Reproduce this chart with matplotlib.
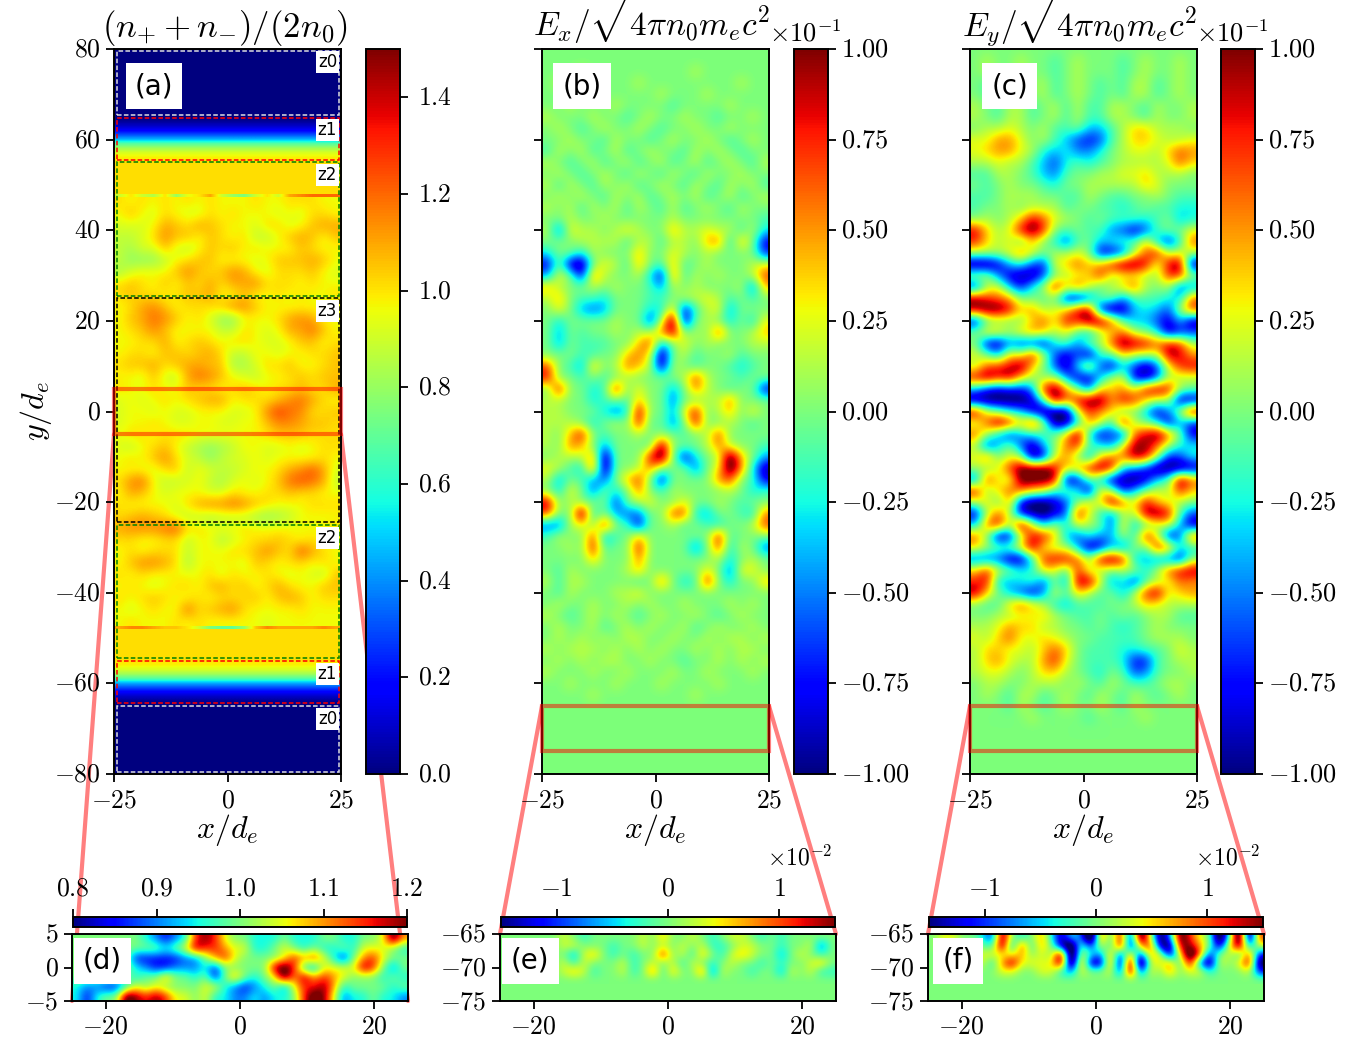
import numpy as np
import matplotlib
matplotlib.use("Agg")
import matplotlib.pyplot as plt
from matplotlib.patches import Rectangle, ConnectionPatch
from matplotlib.transforms import ScaledTranslation

W, H = 1354, 1039
plt.rcParams.update({"mathtext.fontset": "cm", "font.family": "DejaVu Sans",
                     "axes.linewidth": 1.4, "xtick.major.width": 1.3, "ytick.major.width": 1.3,
                     "xtick.major.size": 6, "ytick.major.size": 6})
FS = 18.5

# ---- panel (a): density; entries are offsets from 0.92 in steps of 0.045
dens_mid = [
[2,1,2,1,2,1,2,1,2,1,1,1,2,1,1,2,2,2,1,1],
[1,3,1,0,2,1,0,0,2,1,2,1,1,1,0,1,0,2,2,1],
[0,0,0,1,4,3,2,4,3,2,1,1,0,2,2,0,1,3,4,4],
[-1,-1,0,2,5,3,3,1,3,2,1,2,-1,-1,1,3,4,3,1,3],
[-1,-2,0,0,3,0,-1,1,3,2,3,1,2,1,1,1,3,2,1,1],
[-1,-3,-3,-3,-1,1,2,3,3,1,1,1,0,1,3,3,3,4,3,1],
[-2,0,1,1,1,3,5,3,2,3,5,4,1,0,2,2,2,3,1,0],
[2,3,2,1,3,1,3,2,4,2,4,4,5,2,2,2,1,2,1,1],
[2,3,2,2,1,2,3,3,4,1,1,3,1,1,2,1,2,1,1,2],
[1,2,4,5,3,1,2,2,2,3,5,5,3,1,1,1,1,1,1,1],
[1,3,4,6,5,3,1,2,0,-3,-3,1,1,1,2,4,5,4,1,1],
[1,2,3,5,3,1,1,1,1,-1,-1,2,1,0,1,4,4,6,3,1],
[1,1,2,2,4,1,2,3,2,1,2,2,1,0,0,1,3,3,1,2],
[1,2,2,1,3,3,2,3,4,2,-1,-1,1,1,0,1,1,2,2,3],
[2,3,3,4,2,3,4,4,3,3,-2,-2,0,2,2,3,1,1,2,3],
[1,1,0,3,0,-1,4,6,5,3,1,0,-1,1,1,2,3,2,3,3],
[2,1,1,2,1,1,3,2,2,1,2,3,2,1,2,2,3,2,2,4],
[0,1,0,1,2,1,2,3,4,4,1,2,2,2,3,5,6,4,2,1],
[0,1,1,0,1,0,0,1,1,1,0,0,1,5,8,6,5,2,2,3],
[0,1,1,2,1,0,0,1,1,0,0,1,1,3,5,5,4,3,3,2],
[1,2,2,1,2,2,2,1,1,1,1,1,1,2,3,3,3,2,2,2],
[0,-1,1,2,3,1,-1,-2,-3,-2,-1,1,1,0,0,1,0,1,2,2],
[1,2,1,3,5,2,0,-1,-3,-1,0,0,1,0,1,1,1,1,2,1],
[1,1,1,0,2,3,-1,1,0,-1,-1,0,1,1,2,4,5,7,4,0],
[2,5,6,1,-1,-1,0,1,-1,-2,0,1,0,1,3,6,7,6,4,-1],
[1,4,3,1,0,1,1,1,0,0,2,1,1,2,2,3,2,2,1,1],
[2,1,1,1,1,0,2,4,5,5,6,5,3,2,1,1,1,2,2,2],
[2,3,4,3,2,0,-1,-1,-2,-1,-1,-1,-2,-3,-2,-1,1,1,1,1],
[4,5,5,5,6,7,2,2,1,1,1,2,1,1,1,1,1,1,1,2],
[2,2,1,1,2,2,-1,1,1,-2,0,1,2,2,3,2,1,2,1,1],
[1,2,1,2,2,2,-1,1,1,1,2,2,3,5,3,2,7,4,2,1],
[1,3,5,5,4,2,-2,1,1,1,1,0,3,2,1,2,2,1,2,1],
[2,1,2,1,1,1,1,1,2,0,2,1,1,2,1,0,1,0,-1,3],
[1,2,1,0,1,2,2,1,3,4,2,3,1,2,4,2,1,1,3,3],
[2,1,2,3,2,1,1,2,1,2,2,2,3,1,3,4,3,1,2,2],
[1,0,1,2,1,1,6,2,3,4,5,2,1,1,1,1,2,1,1,1],
[1,2,1,1,1,2,1,2,1,1,1,1,1,0,1,1,1,1,1,1],
]
# density profile of the edge, y = 80, 79, ... 48
edge_profile = [0]*15 + [0.0,0.03,0.09,0.17,0.3,0.45,0.68,0.82,0.92,0.98,1.01,1.01,1.01,1.01,1.01,1.01,1.01,1.01]
seam_top = [0.9,1.0,0.9,0.85,1.0,0.8,0.95,1.0,1.1,0.9,0.8,0.75,0.9,1.0,0.9,1.1,1.15,1.2,1.2,1.2]
seam_bot = [1.1,1.15,1.15,1.1,1.05,1.05,1.0,0.9,0.75,0.7,0.7,0.8,1.05,1.15,1.1,1.1,1.1,1.1,1.15,1.1]

# ---- panel (b): Ex in units of 0.14e-1
ex_top = [
[0]*20,
[0,0,0,0,0,0,0,0,0,0,0,0,0,0,0,0,0,0,0,0],
[0,0,0,1,0,0,0,0,0,0,0,0,0,1,0,0,0,0,0,0],
[0,1,0,0,0,0,0,0,1,0,0,0,0,0,0,0,0,1,0,0],
[0,0,0,0,1,0,0,0,0,0,1,0,0,0,1,0,0,0,0,0],
[0,0,1,0,0,0,1,0,0,0,0,-1,0,0,0,0,1,0,0,0],
[1,0,0,0,1,0,0,-1,0,1,0,0,1,0,0,-1,0,0,1,0],
[0,1,0,-1,0,1,0,0,1,0,-1,0,0,1,0,0,1,0,0,0],
[0,0,1,0,0,-1,1,0,0,-1,0,1,0,0,1,0,-1,0,1,0],
[-1,1,0,1,-1,0,1,-1,0,1,0,0,-1,1,0,1,0,-1,0,0],
[1,0,-1,0,1,-1,0,1,-1,0,1,-1,0,1,-1,0,1,0,-1,1],
[0,1,0,-1,0,1,0,-1,1,0,-1,1,0,-1,1,0,0,1,0,0],
[1,-1,1,0,-1,1,0,1,-1,0,1,0,-1,1,0,-1,1,0,1,-1],
[0,1,0,1,0,-1,1,0,1,-1,0,1,0,1,-1,0,1,-1,0,1],
[1,0,1,-1,1,0,1,-1,1,0,-1,1,-1,0,1,0,-1,1,0,0],
]
ex_mid = [
[0,0,1,0,0,1,0,0,0,0,0,1,0,0,0,0,0,0,0,-1],
[1,-4,2,1,1,0,1,2,1,0,0,3,1,1,2,1,1,-1,1,-2],
[0,0,0,1,1,1,1,-1,1,1,-1,1,1,0,3,4,-2,3,0,-6],
[-2,0,0,-2,1,0,0,0,3,0,0,2,1,0,1,0,0,0,0,-5],
[-6,0,-7,-8,0,2,1,-1,3,0,-1,3,-1,0,1,0,0,0,1,2],
[-3,2,0,-6,4,1,0,0,1,-2,-6,4,-1,1,0,1,0,0,1,5],
[3,1,0,0,1,0,1,0,0,-1,-3,1,0,1,0,0,0,1,-4,3],
[1,3,0,-1,-1,-2,0,0,0,-1,-1,0,1,1,2,1,-1,0,-1,0],
[0,2,0,-3,-4,-3,0,0,0,-2,-2,3,-6,-1,1,2,-3,0,0,0],
[0,-2,0,0,0,0,1,0,0,-5,1,9,-7,0,1,0,-2,0,-2,2],
[0,-3,0,-1,0,0,1,0,1,1,4,7,0,1,0,5,0,0,1,3],
[0,-3,0,-1,-1,-1,0,0,3,5,-3,0,2,0,1,0,0,0,1,1],
[0,0,0,-1,-1,0,0,3,4,2,-8,0,1,-1,0,0,1,-1,0,0],
[5,0,-1,-3,3,0,1,4,3,1,-7,1,0,-1,0,0,-1,-2,-1,0],
[6,0,0,-1,0,-1,0,1,0,0,0,0,1,5,1,0,0,-1,0,0],
[0,6,0,0,-2,-1,6,0,2,0,0,-3,0,4,1,0,-1,0,0,-6],
[1,1,0,0,-2,-1,0,-1,3,0,0,-4,0,0,1,1,4,0,0,0],
[1,1,0,0,0,-2,-4,-2,7,0,0,-3,2,6,0,1,3,0,2,0],
[1,1,1,0,-2,0,1,0,6,-1,0,-4,0,6,0,0,1,0,-1,0],
[1,0,3,6,0,-1,0,0,1,0,0,0,-1,0,1,5,0,0,0,0],
[1,0,4,3,0,-3,0,0,0,-1,8,0,0,0,1,4,1,0,0,-1],
[0,1,1,1,4,-8,0,0,0,6,9,0,-6,-2,0,1,9,3,0,-3],
[2,1,-1,-2,5,-8,0,0,1,4,0,0,0,-4,0,2,9,4,-2,-7],
[1,-3,0,-1,-3,-4,0,3,5,0,-6,0,0,0,0,4,5,0,-1,-6],
[0,-2,2,0,-4,0,-2,0,4,0,-1,1,0,0,0,0,1,0,-2,-1],
[7,0,1,0,0,0,-5,0,1,2,0,0,2,0,0,1,0,-1,0,0],
[5,0,0,9,-2,0,-3,-4,-4,0,0,5,5,-2,-3,0,0,-1,-2,4],
[-4,-4,1,2,0,6,0,-1,-6,0,0,1,-1,0,-1,-2,0,0,1,5],
[-1,1,0,0,5,-3,-1,0,3,0,0,0,0,0,0,6,-1,0,0,0],
[0,0,1,0,6,-1,0,0,6,0,0,0,0,-4,0,5,-2,1,0,-4],
[0,0,0,0,3,0,0,0,4,0,0,0,0,0,0,1,-2,0,1,0],
[0,-1,1,0,0,0,0,1,3,0,0,0,0,0,2,0,-4,2,2,0],
[1,-1,1,1,0,0,0,0,-1,0,4,0,-2,-1,6,0,-2,0,0,3],
[0,-1,1,0,0,0,1,1,2,0,0,0,0,0,0,0,0,0,0,0],
[0,1,0,0,1,0,0,1,0,1,0,0,1,0,0,0,1,0,1,0],
]
ex_bot = [
[1,0,-1,0,1,0,1,0,-1,0,1,0,0,1,0,-1,0,1,0,0],
[0,1,0,0,1,-1,0,1,0,1,0,0,1,-1,0,1,0,0,1,0],
[0,1,0,1,0,1,0,1,1,0,0,1,0,0,1,0,1,1,0,1],
[1,0,1,1,1,0,1,0,1,0,1,0,0,1,0,1,0,1,1,0],
[0,1,0,1,0,1,1,0,0,1,0,0,-1,0,0,1,0,1,0,1],
[1,0,0,0,1,0,0,1,0,0,0,1,0,0,1,0,0,0,1,0],
[0,0,1,0,0,0,1,0,0,0,1,0,0,0,0,1,0,0,0,0],
[0,0,0,0,1,0,0,0,0,0,0,0,0,1,0,0,0,0,0,0],
[0]*20,[0]*20,[0]*20,[0]*20,[0]*20,[0]*20,[0]*20,
]

# ---- panel (c): Ey in units of 0.125e-1
ey_top = [
[0]*20,
[0,1,0,0,1,0,0,-1,0,1,0,0,0,-1,0,1,0,0,1,0],
[0,1,0,0,1,0,0,-1,0,1,0,0,0,-1,0,1,0,0,1,0],
[0,-1,0,1,1,0,1,-1,0,1,0,-1,0,-1,1,1,-1,0,1,0],
[0,-1,0,1,1,0,1,-1,0,1,0,-1,0,-1,1,1,-1,0,1,0],
[1,0,-1,1,1,-1,0,1,-1,1,-1,-1,1,1,0,-1,1,0,0,1],
[1,0,-1,1,1,-1,0,1,-1,1,-1,-1,1,1,0,-1,1,0,0,1],
[0,1,1,2,1,0,1,-1,-1,0,-3,-3,-1,1,3,3,1,1,1,0],
[2,2,4,4,2,0,1,-1,-3,-5,-6,-5,-1,1,3,3,2,1,1,2],
[2,3,4,4,2,1,-2,-3,-2,-4,-4,-2,0,1,2,2,1,3,5,4],
[1,1,2,1,1,-1,-3,-5,-2,-1,-2,-1,0,1,1,1,1,2,5,3],
[-1,-1,1,1,0,-1,-3,-4,-1,0,0,1,1,2,2,3,1,1,1,0],
[0,-1,0,1,0,0,-1,-2,0,0,1,1,1,1,1,3,2,0,0,0],
[-1,-1,0,1,1,1,0,0,-1,-1,1,0,-1,-1,0,0,1,0,-1,-1],
[-1,0,0,1,0,1,1,1,-1,0,0,-1,-1,-2,-1,0,-1,-1,-2,-2],
]
ey_mid = [
[0,1,0,1,3,7,5,2,1,0,-1,0,-1,-1,-1,-2,-1,0,-3,-2],
[7,3,1,2,7,9,6,0,-1,0,-1,-1,-4,-5,-7,-5,-1,0,0,2],
[6,3,1,2,-1,3,0,-2,-5,-1,0,-3,-2,-1,-1,3,-3,-6,-2,5],
[1,1,1,2,5,2,0,1,1,2,0,-7,-7,-5,1,5,7,1,2,1],
[-9,-9,-7,-3,-2,-5,-6,2,3,5,3,4,7,9,9,7,1,7,9,-8],
[1,1,-4,-7,-8,-8,-5,0,1,2,3,6,1,2,2,1,1,6,6,1],
[-6,1,2,-3,-6,-2,1,7,3,5,2,-1,1,3,5,1,0,1,-5,-4],
[8,6,5,4,0,0,-1,0,-7,-8,-5,0,0,-4,-1,-1,-1,-2,-3,5],
[8,9,9,7,3,4,1,2,3,7,8,-7,-9,-8,-3,-2,-3,-5,1,6],
[-7,-1,0,0,0,3,5,2,7,6,9,9,5,-1,-3,-3,-5,-7,-3,-8],
[0,3,3,1,3,4,3,1,2,-1,-3,1,3,5,1,0,-2,-8,-6,-5],
[0,-7,-8,-4,-6,-6,-7,-2,-1,-4,0,1,5,9,8,7,5,7,6,1],
[2,0,-3,3,2,7,1,-5,-7,-5,-8,-1,-1,3,1,1,1,8,7,4],
[1,5,6,7,9,3,0,-5,-8,-2,3,-5,-7,-3,-5,-8,-5,2,6,7],
[7,9,7,8,3,1,0,1,-4,-7,-7,-3,1,2,-7,-8,-5,1,1,1],
[-3,-6,-7,-6,-6,-4,7,9,4,0,-5,3,3,4,2,7,8,7,1,0],
[-9,-9,-9,-9,-9,-7,-1,9,5,7,9,9,4,7,6,3,1,1,-8,-8],
[8,2,0,-2,-3,-7,-9,-9,-9,2,6,4,3,-1,0,-3,-7,-4,1,9],
[1,5,9,7,3,7,1,-9,-8,-3,4,2,-2,8,1,0,-2,-7,-3,-6],
[5,1,-3,-6,-3,-2,-1,0,3,9,-2,-7,-5,-6,5,7,9,5,0,-7],
[1,-6,-3,0,-5,-8,-3,0,5,6,-1,-2,-4,2,8,8,5,1,-2,-2],
[2,5,0,2,1,-9,-7,2,4,0,-4,3,5,5,8,7,1,-6,-5,-2],
[1,0,2,6,9,9,9,7,3,4,7,9,7,-3,-4,-6,-9,-9,-9,-8],
[-5,6,2,1,9,9,9,8,-8,-7,0,-3,-8,-8,-9,-7,-3,-1,9,5],
[7,0,3,5,5,3,2,-2,0,-2,-8,3,1,-6,-3,0,2,1,6,3],
[1,3,-1,4,-7,-9,-9,-7,-5,0,3,2,9,5,2,7,3,2,1,0],
[-7,1,5,1,-7,-8,-9,-7,-5,7,2,-2,-4,1,1,8,9,7,-1,-5],
[-3,5,7,1,9,2,-3,1,-2,2,1,0,-5,3,-3,-1,1,2,-3,-8],
[5,0,-8,-7,1,7,7,3,-3,-5,-2,-4,-3,1,-2,7,2,-7,-5,6],
[3,1,0,0,3,8,2,1,1,-3,-8,-7,-3,-5,1,-1,7,5,-2,-2],
[-5,-5,-5,-8,-8,-2,6,7,7,5,1,8,9,7,-3,-3,-4,-5,-7,0],
[3,6,2,0,-2,-2,3,2,-1,6,1,1,0,1,1,-2,1,5,7,8],
[6,7,-3,-3,-2,-1,-5,0,-4,8,8,2,-4,-2,-6,-1,1,2,5,4],
[8,3,0,-3,-5,-7,-4,2,-1,3,1,-1,0,-3,1,6,8,2,3,4],
[0,-1,-1,3,5,3,1,-2,-3,-1,-1,-1,0,0,1,3,2,1,1,1],
]
ey_bot = [
[0,0,1,1,2,2,3,1,0,-1,-1,0,-1,0,-1,0,1,1,-1,-1],
[1,1,2,4,3,3,1,1,0,0,-1,0,-1,-2,-1,0,1,0,0,0],
[2,1,3,5,2,2,3,2,1,0,0,-1,-1,-1,-1,0,1,1,1,0],
[1,3,3,2,2,1,3,5,3,0,-1,-1,-1,-2,-2,-1,-1,0,2,1],
[1,3,4,2,1,1,4,6,2,0,-1,-1,-1,-2,-6,-6,-1,0,1,1],
[1,2,2,1,0,1,3,3,1,0,-1,-2,0,-1,-5,-4,-1,0,0,1],
[0,1,1,0,0,1,1,1,0,1,0,-1,1,0,-1,-1,0,1,1,0],
[0,1,0,-1,1,1,-1,0,1,0,-1,1,0,-1,1,0,-1,0,1,0],
[0,0,0,-1,1,0,-1,0,1,0,0,1,0,-1,1,0,0,0,0,0],
[0,0,0,0,0,1,0,0,0,0,-1,0,0,0,0,1,0,0,0,0],
[0]*20,[0]*20,[0]*20,[0]*20,[0]*20,
]

# ---- inset (d): density around y=0, offsets from 1 in steps of 0.05
dens_zoom = [
[0,0,0,0,0,0,0,-1,-2,-3,-2,-1,3,4,3,1,0,0,-1,-1,-1,0,-1,-1,-1,0,0,-1,-1,0,0,1,5,2],
[0,0,0,0,0,0,0,0,0,-1,0,1,4,3,3,2,1,1,-1,-1,0,1,0,-1,0,-1,-1,0,-1,1,1,1,0,-1],
[0,0,0,0,0,0,-3,-3,-3,-3,-3,-2,-2,0,2,3,1,0,0,0,0,1,3,2,3,1,-1,-3,0,2,3,1,0,0],
[0,0,0,0,0,0,-1,-2,-3,-3,-2,-2,-2,-1,-3,0,0,0,0,0,4,5,3,-1,-2,1,1,1,1,4,3,0,-2,0],
[0,0,0,0,0,0,-1,0,0,2,0,0,-1,0,-3,0,2,0,-1,0,1,5,2,4,2,3,2,1,0,0,0,-1,0,-1],
[-1,-2,-2,-3,-3,-1,1,0,1,0,0,0,0,1,1,-1,-2,-3,-2,-1,0,-2,1,3,3,4,2,-1,0,0,0,0,-1,0],
[-1,-3,-1,0,0,5,4,3,4,3,1,1,0,1,-1,-1,-2,-2,-1,-2,-1,-1,0,3,5,4,1,-2,-1,-1,0,-1,-1,-2],
]
# ---- inset (e): Ex at the edge, units 0.3e-2
ex_zoom = [
[0,0,0,0,0,0,1,0,-1,0,0,0,0,0,1,0,2,0,0,1,0,-1,0,1,1,0,-1,0,-1,0,0,0,0,0],
[0,0,0,0,0,0,1,1,0,0,0,-1,0,0,1,0,1,0,1,0,1,-1,-1,0,1,1,0,0,-1,0,0,1,-3,0],
[0,0,0,0,0,0,0,-2,1,2,0,-1,0,-1,0,0,4,0,1,-1,2,0,-1,1,2,1,0,0,-2,0,1,0,-1,0],
[0,0,0,0,0,0,1,-1,1,0,0,0,1,-1,0,1,0,1,-1,1,0,-1,0,1,0,0,-1,0,-1,0,0,1,2,0],
[0,0,0,0,0,0,1,2,1,-1,0,0,1,-1,0,3,-1,2,0,0,3,-3,1,0,0,-1,0,0,-2,1,0,1,-1,-1],
[0]*34,
]
# ---- inset (f): Ey at the edge, units 0.38e-2
ey_zoom = [
[0,1,1,0,0,-1,-3,5,0,-1,0,2,-1,-4,-1,-2,-7,3,-1,4,-4,6,1,-5,-2,5,3,1,0,-6,-1,7,-6,3],
[0,1,1,0,0,0,-1,5,-2,3,-1,2,0,-4,-6,0,-3,1,-1,4,-4,2,3,-4,-5,4,4,2,0,-4,1,5,-2,1],
[0,0,0,0,0,1,1,1,1,2,0,1,0,5,-7,1,-1,-2,2,-3,2,-3,2,1,-4,1,6,3,-3,0,1,-1,3,-3],
[0,0,0,0,0,1,-1,2,4,1,1,1,1,5,-7,3,-4,-4,3,-5,6,-7,1,1,2,-1,4,-2,-5,1,0,1,4,-5],
[0,0,0,0,0,0,0,1,1,0,0,1,1,-1,-2,1,0,0,1,-3,5,-3,1,0,2,0,1,1,-1,0,0,0,1,-3],
[0]*34,
]

# tick values and labels
x_ticks = [-25, 0, 25]
y_ticks = [80, 60, 40, 20, 0, -20, -40, -60, -80]
dens_cb_ticks = [0.0, 0.2, 0.4, 0.6, 0.8, 1.0, 1.2, 1.4]
field_cb_ticks = [-1.0, -0.75, -0.5, -0.25, 0.0, 0.25, 0.5, 0.75, 1.0]
zoom_x_ticks = [-20, 0, 20]
zone_names = ["z0", "z1", "z2", "z3", "z2", "z1", "z0"]
zone_y = [77.2, 62.2, 52.1, 22.1, -27.9, -57.9, -67.8]
zone_rects = [(65.5, 79.5, "white"), (55.4, 64.7, "red"), (25.4, 55.0, "green"), (-24.4, 25.0, "black"),
              (-54.4, -25.0, "green"), (-64.3, -55.0, "red"), (-79.6, -65.0, "white")]


def grid(rows, n):
    bad = [i for i, r in enumerate(rows) if len(r) != n]
    if bad:
        raise ValueError(f"bad rows {bad} {[len(rows[i]) for i in bad]}")
    return np.array(rows, dtype=float)


def mlab(v):
    s = f"{v}"
    return "$" + s + "$"


def axpx(l, t, r, b):
    return fig.add_axes([l / W, 1 - b / H, (r - l) / W, (b - t) / H])


def lift_labels(labels, px):
    off = ScaledTranslation(0, px / 100, fig.dpi_scale_trans)
    for t in labels:
        t.set_transform(t.get_transform() + off)


fig = plt.figure(figsize=(W / 100, H / 100), dpi=100)
PANEL_X = [114, 542, 970]
CB_X = [366, 794, 1221]
ZOOM_X = [72, 500, 928]
names = ["(a)", "(b)", "(c)"]
znames = ["(d)", "(e)", "(f)"]

axs, ins = [], []
for i in range(3):
    x0 = PANEL_X[i]
    ax = axpx(x0, 49, x0 + 227, 774)
    axs.append(ax)
    ax.set_facecolor(plt.cm.jet(0.5))
    ax.set_xticks(x_ticks, [mlab(v) for v in x_ticks], fontsize=FS)
    ax.set_yticks(y_ticks, [mlab(v) for v in y_ticks] if i == 0 else [""] * len(y_ticks), fontsize=FS)
    ax.tick_params(axis="x", pad=4)
    ax.set_xlabel(r"$x/d_e$", fontsize=23, labelpad=-1)

# panel a
ax = axs[0]
dens_arr = 0.92 + 0.045 * grid(dens_mid, 20)
imA = ax.imshow(dens_arr, extent=[-25, 25, -47.5, 47.5], cmap="jet", vmin=0, vmax=1.5, aspect="auto", interpolation="bicubic")
prof = np.array(edge_profile)[:, None]
ax.imshow(prof, extent=[-25, 25, 47.5, 80.5], cmap="jet", vmin=0, vmax=1.5, aspect="auto", interpolation="bilinear")
ax.imshow(prof[::-1], extent=[-25, 25, -80.5, -47.5], cmap="jet", vmin=0, vmax=1.5, aspect="auto", interpolation="bilinear")
ax.imshow(np.array([seam_top]), extent=[-25, 25, 47.4, 48.0], cmap="jet", vmin=0, vmax=1.5, aspect="auto", interpolation="bilinear")
ax.imshow(np.array([seam_bot]), extent=[-25, 25, -48.0, -47.4], cmap="jet", vmin=0, vmax=1.5, aspect="auto", interpolation="bilinear")
ax.set_xlim(-25, 25)
ax.set_ylim(-80, 80)
ax.set_ylabel(r"$y/d_e$", fontsize=23, labelpad=0)
ax.set_title(r"$(n_{+}+n_{-})/(2n_0)$", fontsize=25, pad=9, x=0.49)
for y0, y1, c in zone_rects:
    ax.add_patch(Rectangle((-24.3, y0), 48.9, y1 - y0, fill=False, ls=(0, (3, 1.5)), lw=1.1, ec=c if c != "white" else "#dddddd"))
for n, yy in zip(zone_names, zone_y):
    ax.text(22, yy, n, fontsize=12, ha="center", va="center", bbox=dict(fc="white", ec="none", pad=1.5))

# panels b, c
ex_arr = 0.14 * grid(ex_top + ex_mid + ex_bot, 20)
ey_arr = 0.125 * grid(ey_top + ey_mid + ey_bot, 20)
imB = axs[1].imshow(ex_arr, extent=[-25, 25, -81.25, 81.25], cmap="jet", vmin=-1, vmax=1, aspect="auto", interpolation="bicubic")
imC = axs[2].imshow(ey_arr, extent=[-25, 25, -81.25, 81.25], cmap="jet", vmin=-1, vmax=1, aspect="auto", interpolation="bicubic")
axs[1].set_ylim(-80, 80)
axs[2].set_ylim(-80, 80)
axs[1].set_title(r"$E_x/\sqrt{4\pi n_0 m_e c^2}$", fontsize=24, pad=9)
axs[2].set_title(r"$E_y/\sqrt{4\pi n_0 m_e c^2}$", fontsize=24, pad=9)

# colorbars
for i, im in enumerate([imA, imB, imC]):
    cax = axpx(CB_X[i], 49, CB_X[i] + 34, 774)
    cb = fig.colorbar(im, cax=cax)
    if i == 0:
        cb.set_ticks(dens_cb_ticks, labels=[mlab(f"{v:.1f}") for v in dens_cb_ticks])
        cax.tick_params(labelsize=FS, length=6, pad=7)
    else:
        cb.set_ticks(field_cb_ticks, labels=[mlab(f"{v:.2f}") for v in field_cb_ticks])
        fig.text((CB_X[i] + 11) / W, 1 - 34 / H, r"$\times 10^{-1}$", fontsize=19, ha="center", va="center")
        cax.tick_params(labelsize=FS + 0.5, length=6, pad=3.5)
    lift_labels(cax.get_yticklabels(), 2.5)
lift_labels(axs[0].get_yticklabels(), 2.5)

# insets
zoom_data = [1 + 0.05 * grid(dens_zoom, 34), 0.3 * grid(ex_zoom, 34), 0.38 * grid(ey_zoom, 34)]
zoom_ext = [[-25, 25, -5, 5], [-25, 25, -72.5, -65], [-25, 25, -72.5, -65]]
zoom_ylim = [(-5, 5), (-75, -65), (-75, -65)]
zoom_yt = [[5, 0, -5], [-65, -70, -75], [-65, -70, -75]]
zoom_clim = [(0.8, 1.2), (-1.5, 1.5), (-1.5, 1.5)]
zoom_cbt = [[0.8, 0.9, 1.0, 1.1, 1.2], [-1, 0, 1], [-1, 0, 1]]
zoom_cbl = [["$0.8$", "$0.9$", "$1.0$", "$1.1$", "$1.2$"], ["$-1$", "$0$", "$1$"], ["$-1$", "$0$", "$1$"]]
for i in range(3):
    x0 = ZOOM_X[i]
    a = axpx(x0, 934, x0 + 336, 1001)
    ins.append(a)
    a.set_facecolor(plt.cm.jet(0.5))
    vmin, vmax = zoom_clim[i]
    im = a.imshow(zoom_data[i], extent=zoom_ext[i], cmap="jet", vmin=vmin, vmax=vmax, aspect="auto", interpolation="bicubic")
    a.set_xlim(-25, 25)
    a.set_ylim(*zoom_ylim[i])
    a.set_xticks(zoom_x_ticks, [mlab(v) for v in zoom_x_ticks], fontsize=FS)
    a.set_yticks(zoom_yt[i], [mlab(v) for v in zoom_yt[i]], fontsize=FS)
    a.tick_params(axis="x", pad=3)
    lift_labels(a.get_yticklabels(), 2)
    a.text(-20.5, zoom_ylim[i][1] - 4.0, znames[i], fontsize=20, ha="center", va="center",
           bbox=dict(fc="white", ec="none", boxstyle="square,pad=0.33"))
    cax = axpx(x0 + 1, 917, x0 + 335, 927)
    cb = fig.colorbar(im, cax=cax, orientation="horizontal")
    cb.set_ticks(zoom_cbt[i], labels=zoom_cbl[i])
    cax.xaxis.set_ticks_position("top")
    cax.tick_params(labelsize=FS, length=6, pad=5)
    if i > 0:
        fig.text((x0 + 300) / W, 1 - 858 / H, r"$\times 10^{-2}$", fontsize=17, ha="center", va="center")

for i, name in enumerate(names):
    axs[i].text(-16.2, 71.8, name, fontsize=20, ha="center", va="center",
                bbox=dict(fc="white", ec="none", boxstyle="square,pad=0.33"))

# zoom boxes and connectors
boxes = [(-5, 5), (-75, -65), (-75, -65)]
RED = (1, 0, 0, 0.5)
for i in range(3):
    y0, y1 = boxes[i]
    axs[i].add_patch(Rectangle((-25, y0), 50, y1 - y0, fill=False, ec=RED, lw=3, clip_on=False, zorder=5))
    if i == 0:
        ya, yb = y0, ins[i].get_ylim()[0]
    else:
        ya, yb = y1, ins[i].get_ylim()[1]
    for xs in (-25, 25):
        con = ConnectionPatch(xyA=(xs, ya), coordsA=axs[i].transData, xyB=(xs, yb), coordsB=ins[i].transData,
                              color=RED, lw=3, zorder=-1)
        fig.add_artist(con)

fig.savefig("out.png", dpi=100)
